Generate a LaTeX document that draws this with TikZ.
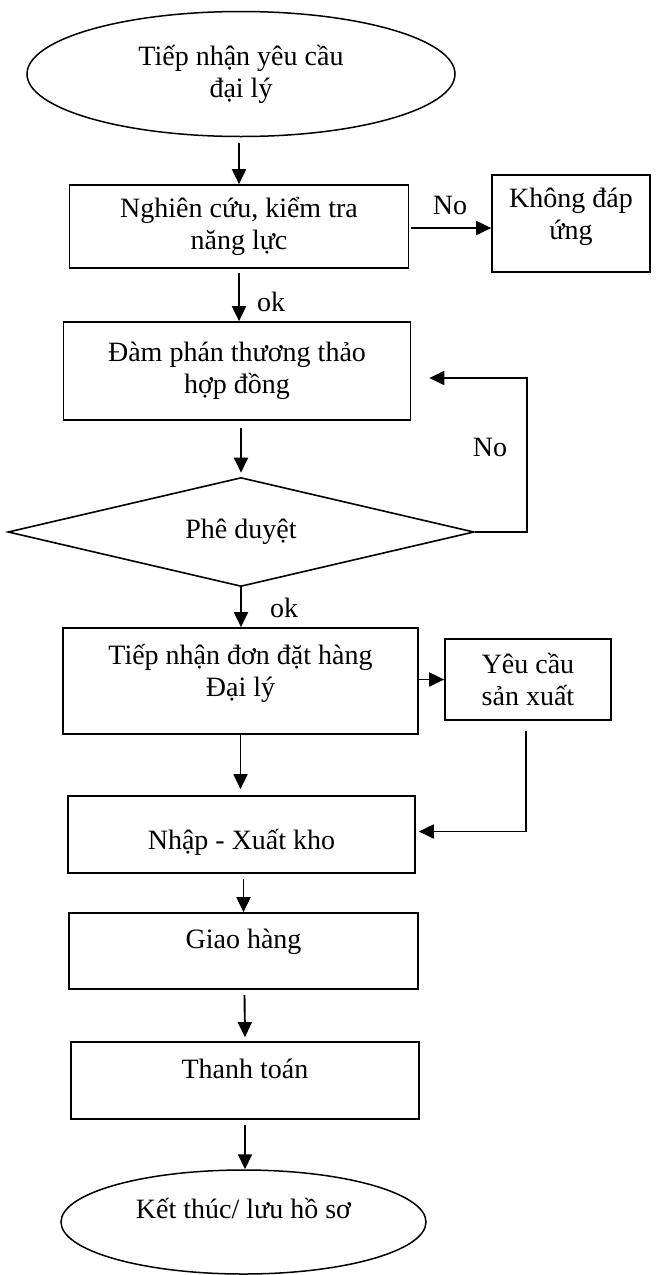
\documentclass[tikz,border=0pt]{standalone}
\usepackage{fontspec}
\setmainfont{Liberation Serif}
\usetikzlibrary{arrows.meta,shapes.geometric,calc}
\begin{document}
\begin{tikzpicture}[x=1pt,y=-1pt,
  every node/.style={font=\fontsize{28}{32}\selectfont, align=center, inner sep=0pt},
  box/.style={draw, line width=1.7pt, rectangle},
  oval/.style={draw, line width=1.5pt, ellipse},
  decision/.style={draw, line width=1.6pt, diamond, shape aspect=4.27},
  arr/.style={line width=1.9pt, -{Triangle[length=15pt,width=14pt]}},
  tag/.style={font=\fontsize{28}{32}\selectfont}
]
\useasboundingbox (0,0) rectangle (660,1275);

% process steps
\node[oval, minimum width=428pt, minimum height=125pt] (start) at (241,74) {Tiếp nhận yêu cầu\\đại lý};
\node[box, minimum width=339pt, minimum height=83pt] (nghien) at (239,226.5) {Nghiên cứu, kiểm tra\\năng lực};
\node[box, minimum width=158pt, minimum height=97pt, text depth=19pt] (khong) at (571,223.5) {Không đáp\\ứng};
\node[box, minimum width=347pt, minimum height=98pt] (dam) at (237,371) {Đàm phán thương thảo\\hợp đồng};
\node[decision, minimum width=466pt, minimum height=109pt] (duyet) at (241,532) {Phê duyệt};
\node[box, minimum width=355pt, minimum height=106pt, text depth=22pt] (tiep) at (240.5,681) {Tiếp nhận đơn đặt hàng\\Đại lý};
\node[box, minimum width=166pt, minimum height=81pt] (yeu) at (528,679.5) {Yêu cầu\\sản xuất};
\node[box, minimum width=347pt, minimum height=77pt, text height=30pt, text depth=0pt] (nhap) at (241.5,834.5) {Nhập - Xuất kho};
\node[box, minimum width=349pt, minimum height=76pt, text depth=24pt] (giao) at (243.5,951) {Giao hàng};
\node[box, minimum width=348pt, minimum height=77pt, text depth=24pt] (thanh) at (245,1080.5) {Thanh toán};
\node[oval, minimum width=365pt, minimum height=104pt, text depth=28pt] (ket) at (243.5,1222) {Kết thúc/ lưu hồ sơ};

% branch labels
\node[tag] (no1) at (450,205) {No};
\node[tag] (ok1) at (271,302) {ok};
\node[tag] (no2) at (490,447) {No};
\node[tag] (ok2) at (284,608) {ok};

% connectors
\draw[arr] ($(nghien.north |- start.south)+(0,6)$) -- (nghien.north);
\draw[arr] ($(nghien.east)+(2,1.5)$) -- ($(nghien.east -| khong.west)+(0,1.5)$);
\draw[arr] ($(nghien.south)+(0,4)$) -- (nghien.south |- dam.north);
\draw[arr] ($(duyet.north |- dam.south)+(0,7)$) -- ($(duyet.north)+(0,-4)$);
\coordinate (loopin) at ($(dam.east)+(18,7)$);
\draw[arr] (duyet.east) -- ++(52,0) |- (loopin);
\draw[arr] (duyet.south) -- (duyet.south |- tiep.north);
\draw[arr] (tiep.east |- yeu.west) -- (yeu.west);
\draw[arr] ($(yeu.south)+(-2,10)$) |- ($(nhap.east)+(3,-3)$);
\draw[arr] (tiep.south) -- ($(tiep.south |- nhap.north)+(0,-6)$);
\draw[arr] ($(giao.north |- nhap.south)+(0,5)$) -- (giao.north);
\draw[arr] ($(giao.south)+(1,5)$) -- ($(thanh.north)+(0,-4)$);
\draw[arr] ($(thanh.south)+(0,5)$) -- (thanh.south |- ket.north);
\end{tikzpicture}
\end{document}
